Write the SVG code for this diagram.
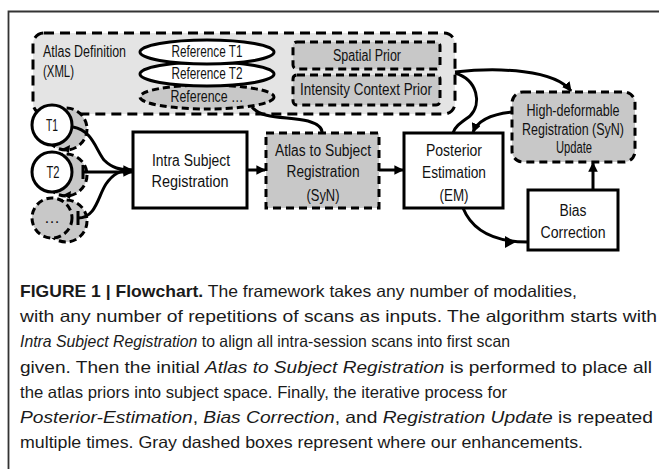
<svg xmlns="http://www.w3.org/2000/svg" width="659" height="469" viewBox="0 0 659 469">
  <defs>
    <style>
      .lbl { font-family: "Liberation Sans", Arial, sans-serif; font-size: 16px; fill: #111; text-anchor: middle; }
      .lbl-l { font-family: "Liberation Sans", Arial, sans-serif; font-size: 16px; fill: #111; }
      .cap { font-family: "Liberation Sans", Arial, sans-serif; font-size: 16.5px; fill: #1a1a1a; }
      .box { fill: #fff; stroke: #000; stroke-width: 3; }
      .dbox { fill: #c8c8c8; stroke: #000; stroke-width: 3; stroke-dasharray: 8 5; }
      .group { fill: #e4e4e4; stroke: #000; stroke-width: 3; stroke-dasharray: 10 6; }
      .circ { fill: #fff; stroke: #000; stroke-width: 3; }
      .dcirc { fill: #c8c8c8; stroke: #000; stroke-width: 3; stroke-dasharray: 7 4; }
      .edge { fill: none; stroke: #000; stroke-width: 3; }
    </style>
    <marker id="head" viewBox="0 0 10 10" refX="9" refY="5" markerWidth="3.2" markerHeight="3.2" orient="auto" markerUnits="strokeWidth">
      <path d="M0,0 L10,5 L0,10 z" fill="#000"/>
    </marker>
  </defs>

  <!-- figure frame -->
  <path d="M8.5,469 V11.5 H659" fill="none" stroke="#333" stroke-width="1.8"/>

  <!-- atlas definition container -->
  <g id="atlas-definition">
    <rect class="group" x="33" y="33" width="422" height="81" rx="11"/>
    <text class="lbl-l" x="43" y="57" textLength="83" lengthAdjust="spacingAndGlyphs">Atlas Definition</text>
    <text class="lbl-l" x="43" y="77" textLength="31" lengthAdjust="spacingAndGlyphs">(XML)</text>
  </g>

  <g id="reference-more">
    <ellipse class="dcirc" cx="207" cy="97" rx="67" ry="12"/>
    <text class="lbl" x="207" y="102" textLength="73" lengthAdjust="spacingAndGlyphs">Reference …</text>
  </g>
  <g id="reference-t2">
    <ellipse class="circ" cx="207" cy="74" rx="67" ry="12"/>
    <text class="lbl" x="207" y="79" textLength="71" lengthAdjust="spacingAndGlyphs">Reference T2</text>
  </g>
  <g id="reference-t1">
    <ellipse class="circ" cx="207" cy="52" rx="67" ry="12"/>
    <text class="lbl" x="207" y="57" textLength="71" lengthAdjust="spacingAndGlyphs">Reference T1</text>
  </g>

  <g id="spatial-prior">
    <rect class="dbox" x="293" y="42" width="147" height="27" rx="4"/>
    <text class="lbl" x="367" y="61" textLength="68" lengthAdjust="spacingAndGlyphs">Spatial Prior</text>
  </g>
  <g id="intensity-context-prior">
    <rect class="dbox" x="293" y="75" width="147" height="30" rx="4"/>
    <text class="lbl" x="366" y="95" textLength="132" lengthAdjust="spacingAndGlyphs">Intensity Context Prior</text>
  </g>

  <!-- input scans -->
  <g id="scan-t1">
    <circle class="dcirc" cx="66" cy="129" r="21"/>
    <circle class="circ" cx="52" cy="125" r="20"/>
    <text class="lbl" x="52" y="131" textLength="12" lengthAdjust="spacingAndGlyphs">T1</text>
  </g>
  <g id="scan-t2">
    <circle class="dcirc" cx="66" cy="175" r="21"/>
    <circle class="circ" cx="52" cy="172" r="20"/>
    <text class="lbl" x="53" y="178" textLength="13" lengthAdjust="spacingAndGlyphs">T2</text>
  </g>
  <g id="scan-more">
    <circle class="dcirc" cx="66" cy="221" r="21"/>
    <circle class="dcirc" cx="52" cy="218" r="20"/>
    <text class="lbl" x="52" y="223">…</text>
  </g>

  <!-- processing steps -->
  <g id="intra-subject-registration">
    <rect class="box" x="133" y="132" width="114" height="76"/>
    <text class="lbl" x="191" y="166" textLength="78" lengthAdjust="spacingAndGlyphs">Intra Subject</text>
    <text class="lbl" x="190" y="187" textLength="77" lengthAdjust="spacingAndGlyphs">Registration</text>
  </g>
  <g id="atlas-to-subject-registration">
    <rect class="dbox" x="266" y="133" width="113" height="75"/>
    <text class="lbl" x="323" y="156" textLength="96" lengthAdjust="spacingAndGlyphs">Atlas to Subject</text>
    <text class="lbl" x="323" y="177" textLength="73" lengthAdjust="spacingAndGlyphs">Registration</text>
    <text class="lbl" x="323" y="201" textLength="33" lengthAdjust="spacingAndGlyphs">(SyN)</text>
  </g>
  <g id="posterior-estimation">
    <rect class="box" x="404" y="133" width="99" height="75"/>
    <text class="lbl" x="454" y="156" textLength="56" lengthAdjust="spacingAndGlyphs">Posterior</text>
    <text class="lbl" x="454" y="178" textLength="64" lengthAdjust="spacingAndGlyphs">Estimation</text>
    <text class="lbl" x="454" y="201" textLength="29" lengthAdjust="spacingAndGlyphs">(EM)</text>
  </g>
  <g id="registration-update">
    <rect class="dbox" x="512" y="92" width="123" height="70" rx="11"/>
    <text class="lbl" x="573" y="116" textLength="93" lengthAdjust="spacingAndGlyphs">High-deformable</text>
    <text class="lbl" x="573" y="135" textLength="102" lengthAdjust="spacingAndGlyphs">Registration (SyN)</text>
    <text class="lbl" x="574" y="153" textLength="36" lengthAdjust="spacingAndGlyphs">Update</text>
  </g>
  <g id="bias-correction">
    <rect class="box" x="528" y="190" width="90" height="60"/>
    <text class="lbl" x="573" y="216" textLength="27" lengthAdjust="spacingAndGlyphs">Bias</text>
    <text class="lbl" x="573" y="238" textLength="65" lengthAdjust="spacingAndGlyphs">Correction</text>
  </g>

  <!-- connectors -->
  <g id="connectors">
    <!-- scans into intra subject registration -->
    <path class="edge" d="M73,127 C92,130 96,150 104,160 C112,168 120,170 132,170" marker-end="url(#head)"/>
    <path class="edge" d="M83,172 H132" marker-end="url(#head)"/>
    <path class="edge" d="M78,218 C96,218 98,196 106,184 C113,174 120,170 132,170"/>
    <path class="edge" d="M83,165 V179 M78,211 V225"/>
    <path d="M70,145 L62,149 L69,153 z M71,191 L63,195 L70,199 z" fill="#000"/>
    <!-- main chain -->
    <path class="edge" d="M247,170 H265" marker-end="url(#head)"/>
    <path class="edge" d="M379,170 H403" marker-end="url(#head)"/>
    <!-- atlas references into atlas-to-subject registration -->
    <path class="edge" d="M252,107 C262,120 290,116 308,121 C318,124 322,128 322,132"/>
    <!-- priors to posterior estimation and registration update -->
    <path class="edge" d="M455,73 C478,80 482,104 470,116 C462,122 455,126 453,133"/>
    <path class="edge" d="M455,72 C500,67 555,70 571,91" marker-end="url(#head)"/>
    <!-- update back to posterior -->
    <path class="edge" d="M512,112 C492,114 478,120 473,132" marker-end="url(#head)"/>
    <!-- posterior to bias correction -->
    <path class="edge" d="M463,208 C472,230 492,242 528,242"/>
    <path d="M505,236 L516,242 L505,248 z" fill="#000"/>
    <!-- bias correction to registration update -->
    <path class="edge" d="M593,190 V163" marker-end="url(#head)"/>
  </g>

  <!-- caption -->
  <g id="caption">
    <text class="cap" x="20" y="297" textLength="557" lengthAdjust="spacingAndGlyphs"><tspan font-weight="bold">FIGURE 1 | Flowchart.</tspan> The framework takes any number of modalities,</text>
    <text class="cap" x="20" y="322" textLength="637" lengthAdjust="spacingAndGlyphs">with any number of repetitions of scans as inputs. The algorithm starts with</text>
    <text class="cap" x="20" y="347" textLength="490" lengthAdjust="spacingAndGlyphs"><tspan font-style="italic">Intra Subject Registration</tspan> to align all intra-session scans into first scan</text>
    <text class="cap" x="20" y="373" textLength="632" lengthAdjust="spacingAndGlyphs">given. Then the initial <tspan font-style="italic">Atlas to Subject Registration</tspan> is performed to place all</text>
    <text class="cap" x="20" y="398" textLength="487" lengthAdjust="spacingAndGlyphs">the atlas priors into subject space. Finally, the iterative process for</text>
    <text class="cap" x="20" y="423" textLength="633" lengthAdjust="spacingAndGlyphs"><tspan font-style="italic">Posterior-Estimation</tspan>, <tspan font-style="italic">Bias Correction</tspan>, and <tspan font-style="italic">Registration Update</tspan> is repeated</text>
    <text class="cap" x="20" y="448" textLength="563" lengthAdjust="spacingAndGlyphs">multiple times. Gray dashed boxes represent where our enhancements.</text>
  </g>
</svg>
